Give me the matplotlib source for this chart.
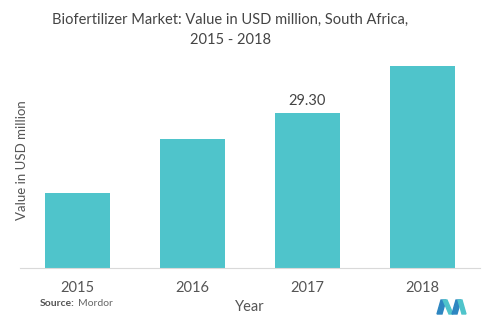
import matplotlib
matplotlib.use("Agg")
import matplotlib.pyplot as plt
from matplotlib.patches import Polygon

years = ["2015", "2016", "2017", "2018"]
values = [14.2, 24.4, 29.30, 38.2]
labelled = {2: "29.30"}

plt.rcParams['font.family'] = ['Lato', 'DejaVu Sans']

W, H = 491, 322
fig = plt.figure(figsize=(W/100, H/100), dpi=100)
ax = fig.add_axes([20/W, 1-268/H, 460/W, (268-60)/H])
x = range(len(years))
ax.bar(x, values, width=0.57, color="#4FC4CB")
ax.set_xlim(-0.5, 3.5)
ax.set_ylim(0, (268-60)/5.29)
for s in ["top", "right", "left"]:
    ax.spines[s].set_visible(False)
ax.spines["bottom"].set_color("#d9d9d9")
ax.set_yticks([])
ax.set_xticks(list(x))
ax.set_xticklabels(years, fontsize=10.5, color="#555555")
ax.tick_params(axis="x", length=0, pad=9)
for i, t in labelled.items():
    ax.text(i, values[i] + 1.0, t, ha="center", va="bottom", fontsize=10.5, color="#444444")

fig.text(230/W, 1-30/H, "Biofertilizer Market: Value in USD million, South Africa,\n2015 - 2018",
         ha="center", va="center", fontsize=10.5, color="#444444", linespacing=1.55)
fig.text(22/W, 1-160/H, "Value in USD million", rotation=90, ha="center", va="center",
         fontsize=9.5, color="#555555")
fig.text(250/W, 1-307/H, "Year", ha="center", va="center", fontsize=10.5, color="#555555")
fig.text(40/W, 1-304/H, "Source:", ha="left", va="center", fontsize=7.5, fontweight="bold", color="#555555")
fig.text(78/W, 1-304/H, "Mordor", ha="left", va="center", fontsize=7.5, color="#666666")

# logo
def P(pts, c):
    fig.patches.append(Polygon([(px/W, 1-py/H) for px, py in pts], closed=True,
                               transform=fig.transFigure, color=c))
P([(437, 314), (441, 300), (446, 300), (442, 314)], "#2E86C1")
P([(443, 300), (447, 300), (453, 314), (449, 314)], "#4FC4CB")
P([(452, 314), (456, 300), (461, 300), (457, 314)], "#2E86C1")
P([(458, 300), (462, 300), (466, 314), (462, 314)], "#4FC4CB")

fig.savefig("out.png", dpi=100)
